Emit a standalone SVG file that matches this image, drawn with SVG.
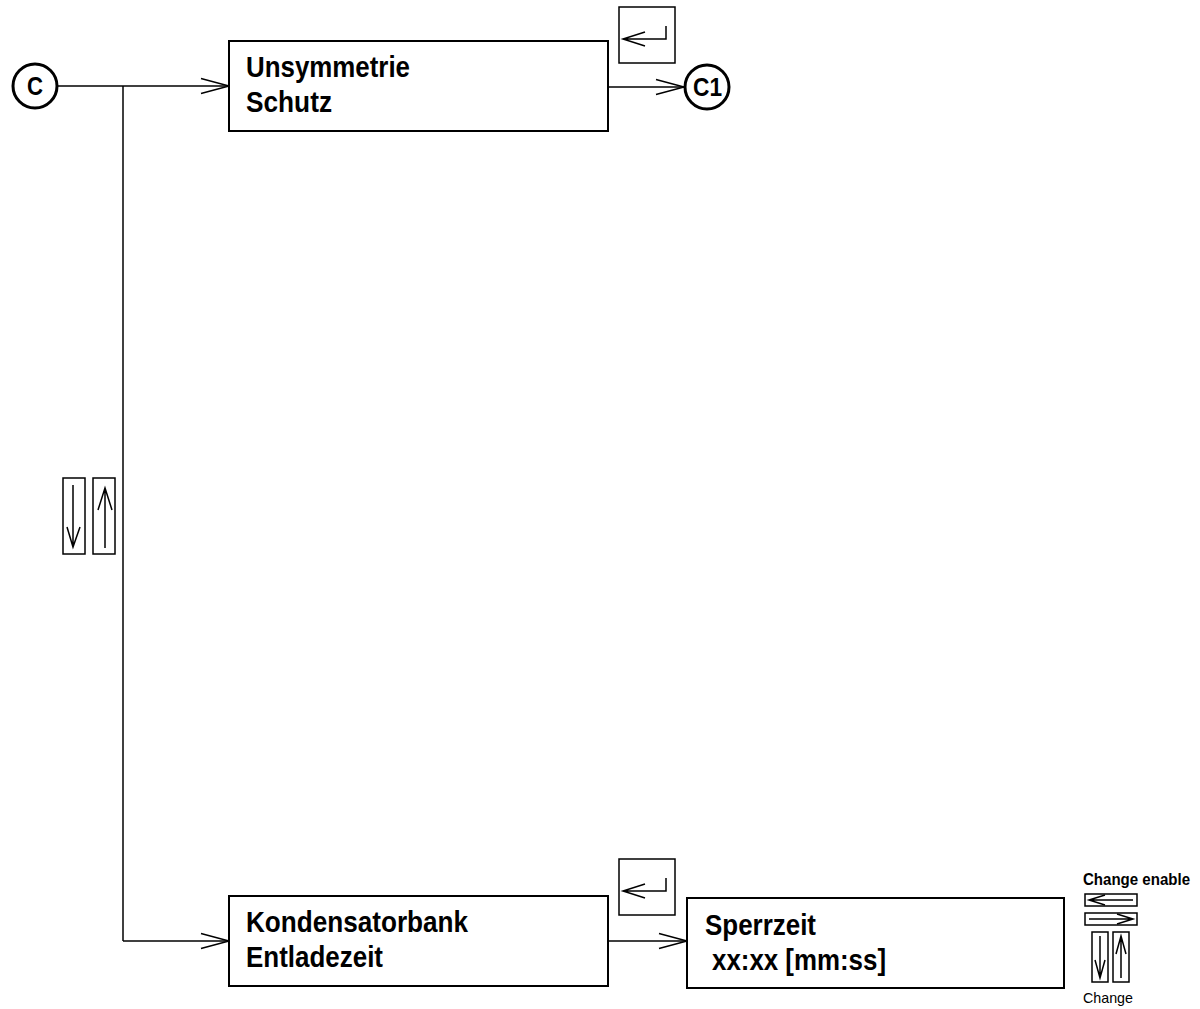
<svg xmlns="http://www.w3.org/2000/svg" width="1200" height="1009" viewBox="0 0 1200 1009">
  <style>
    .box { fill: #fff; stroke: #000; stroke-width: 2; }
    .key { fill: #fff; stroke: #000; stroke-width: 1.5; }
    .glyph { fill: none; stroke: #000; stroke-width: 1.5; }
    .conn { fill: none; stroke: #000; stroke-width: 1.5; }
    .node-label { font-family: "Liberation Sans", Arial, sans-serif; font-weight: bold; font-size: 29px; fill: #000; }
    .conn-circle { fill: #fff; stroke: #000; stroke-width: 3; }
    .circle-label { font-family: "Liberation Sans", Arial, sans-serif; font-weight: bold; font-size: 25px; fill: #000; }
    .legend-bold { font-family: "Liberation Sans", Arial, sans-serif; font-weight: bold; font-size: 16px; fill: #000; }
    .legend { font-family: "Liberation Sans", Arial, sans-serif; font-size: 15px; fill: #000; }
  </style>
  <defs>
    <marker id="open-arrow" markerUnits="userSpaceOnUse" markerWidth="32" markerHeight="20" refX="29" refY="10" orient="auto">
      <path d="M1,2.5 L29,10 L1,17.5" fill="none" stroke="#000" stroke-width="1.5"/>
    </marker>
  </defs>

  <rect width="1200" height="1009" fill="#fff"/>

  <!-- connectors -->
  <g id="connectors">
    <line class="conn" x1="57" y1="86" x2="229" y2="86" marker-end="url(#open-arrow)"/>
    <line class="conn" x1="123" y1="86" x2="123" y2="941"/>
    <line class="conn" x1="123" y1="941" x2="229" y2="941" marker-end="url(#open-arrow)"/>
    <line class="conn" x1="608" y1="87" x2="684" y2="87" marker-end="url(#open-arrow)"/>
    <line class="conn" x1="608" y1="941" x2="687" y2="941" marker-end="url(#open-arrow)"/>
  </g>

  <!-- entry point C -->
  <g id="node-c">
    <circle class="conn-circle" cx="35" cy="86" r="22"/>
    <text class="circle-label" x="27" y="95" textLength="16" lengthAdjust="spacingAndGlyphs">C</text>
  </g>

  <!-- Unsymmetrie Schutz -->
  <g id="node-unsymmetrie">
    <rect class="box" x="229" y="41" width="379" height="90"/>
    <text class="node-label" x="246" y="77" textLength="164" lengthAdjust="spacingAndGlyphs">Unsymmetrie</text>
    <text class="node-label" x="246" y="112" textLength="86" lengthAdjust="spacingAndGlyphs">Schutz</text>
  </g>

  <!-- enter key above first node -->
  <g id="key-enter-1">
    <rect class="key" x="619" y="7" width="56" height="56"/>
    <path class="glyph" d="M666,26 V39 H623 M645,32 L623,39 L645,46"/>
  </g>

  <!-- exit point C1 -->
  <g id="node-c1">
    <circle class="conn-circle" cx="707" cy="87" r="22"/>
    <text class="circle-label" x="693" y="96" textLength="29" lengthAdjust="spacingAndGlyphs">C1</text>
  </g>

  <!-- up/down keys on the vertical path -->
  <g id="key-updown">
    <rect class="key" x="63" y="478" width="22" height="76"/>
    <path class="glyph" d="M73,485 V547 M67,527 L73,547 L80,527"/>
    <rect class="key" x="93" y="478" width="22" height="76"/>
    <path class="glyph" d="M105,548 V488 M98,510 L105,488 L112,510"/>
  </g>

  <!-- Kondensatorbank Entladezeit -->
  <g id="node-kondensatorbank">
    <rect class="box" x="229" y="896" width="379" height="90"/>
    <text class="node-label" x="246" y="932" textLength="222" lengthAdjust="spacingAndGlyphs">Kondensatorbank</text>
    <text class="node-label" x="246" y="967" textLength="137" lengthAdjust="spacingAndGlyphs">Entladezeit</text>
  </g>

  <!-- enter key above second node -->
  <g id="key-enter-2">
    <rect class="key" x="619" y="859" width="56" height="56"/>
    <path class="glyph" d="M666,878 V891 H623 M645,884 L623,891 L645,898"/>
  </g>

  <!-- Sperrzeit -->
  <g id="node-sperrzeit">
    <rect class="box" x="687" y="898" width="377" height="90"/>
    <text class="node-label" x="705" y="935" textLength="111" lengthAdjust="spacingAndGlyphs">Sperrzeit</text>
    <text class="node-label" x="712" y="970" textLength="174" lengthAdjust="spacingAndGlyphs">xx:xx [mm:ss]</text>
  </g>

  <!-- key legend -->
  <g id="legend">
    <text class="legend-bold" x="1083" y="885" textLength="107" lengthAdjust="spacingAndGlyphs">Change enable</text>
    <rect class="key" x="1085" y="894" width="52" height="12"/>
    <path class="glyph" d="M1133,900 H1089 M1105,895 L1089,900 L1105,905"/>
    <rect class="key" x="1085" y="913" width="52" height="12"/>
    <path class="glyph" d="M1089,919 H1133 M1117,914 L1133,919 L1117,924"/>
    <rect class="key" x="1092" y="932" width="16" height="50"/>
    <path class="glyph" d="M1100,936 V978 M1095,960 L1100,978 L1105,960"/>
    <rect class="key" x="1113" y="932" width="16" height="50"/>
    <path class="glyph" d="M1121,978 V936 M1116,954 L1121,936 L1126,954"/>
    <text class="legend" x="1083" y="1003" textLength="50" lengthAdjust="spacingAndGlyphs">Change</text>
  </g>
</svg>
